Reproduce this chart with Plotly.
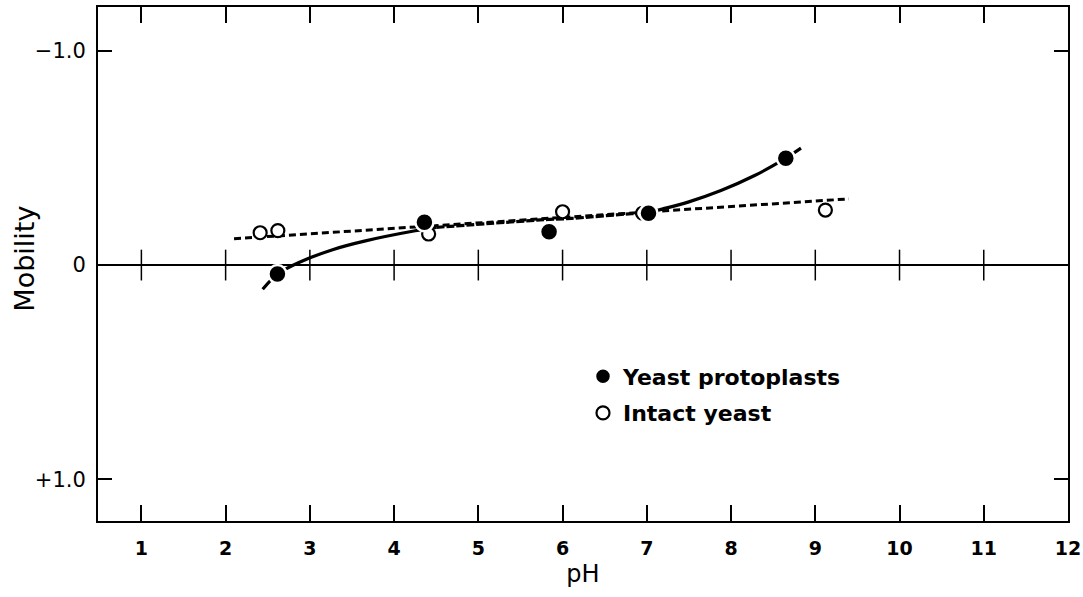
import plotly.graph_objects as go

# Electrophoretic mobility of yeast protoplasts and intact yeast cells vs pH
proto_ph = [2.615, 4.36, 5.84, 7.02, 8.65]
proto_mob = [0.042, -0.200, -0.156, -0.242, -0.499]

intact_ph = [2.41, 2.62, 4.41, 6.00, 6.95, 9.12]
intact_mob = [-0.151, -0.161, -0.145, -0.249, -0.242, -0.257]

# Straight fitted line through the intact yeast points
intact_fit_ph = [2.10, 9.40]
intact_fit_mob = [-0.123, -0.309]

# Smooth curve through the protoplast points
curve_ph = [2.44, 2.615, 2.87, 3.27, 3.66, 4.25, 4.50,
            5.79, 6.11, 6.82, 7.02,
            7.17, 7.49, 7.88, 8.28, 8.65, 8.83]
curve_mob = [0.113, 0.042, -0.012, -0.072, -0.113, -0.160, -0.176,
             -0.212, -0.218, -0.240, -0.244,
             -0.260, -0.294, -0.348, -0.418, -0.499, -0.546]

x_ticks = list(range(1, 13))
x_tick_text = [str(v) for v in x_ticks]
zero_ticks = list(range(1, 12))
y_ticks = [-1.0, 0.0, 1.0]
y_tick_text = ["\u22121.0", "0", "+1.0"]

X_RANGE = [0.485, 12.0]
Y_RANGE = [1.195, -1.205]

fig = go.Figure()

# small crossing ticks along the zero line
fig.add_trace(go.Scatter(
    x=zero_ticks, y=[0] * len(zero_ticks), mode="markers",
    marker=dict(symbol="line-ns", size=22, line=dict(color="black", width=1.5)),
    showlegend=False, hoverinfo="skip"))

fig.add_trace(go.Scatter(
    x=intact_fit_ph, y=intact_fit_mob, mode="lines",
    line=dict(color="black", width=3, dash="7px,4px"),
    showlegend=False, hoverinfo="skip"))

# protoplast curve: solid at both ends, heavier dashes where it meets the fit line
segments = [(0, 7, "solid"), (6, 11, "8px,2px"), (10, 17, "solid")]
for a, b, dash in segments:
    fig.add_trace(go.Scatter(
        x=curve_ph[a:b], y=curve_mob[a:b], mode="lines",
        line=dict(color="black", width=3.2, dash=dash, shape="spline", smoothing=0.8),
        showlegend=False, hoverinfo="skip"))

fig.add_trace(go.Scatter(
    x=intact_ph, y=intact_mob, mode="markers", name="Intact yeast",
    legendrank=2, legendgroup="b",
    marker=dict(symbol="circle", size=13, color="white",
                line=dict(color="black", width=2.2))))

fig.add_trace(go.Scatter(
    x=proto_ph, y=proto_mob, mode="markers", name="Yeast protoplasts",
    legendrank=1, legendgroup="a",
    marker=dict(symbol="circle", size=18, color="black",
                line=dict(color="white", width=2.5))))

fig.update_layout(
    width=1083, height=597,
    margin=dict(l=98, r=15, t=7, b=76, autoexpand=False),
    paper_bgcolor="white", plot_bgcolor="white",
    font=dict(family="DejaVu Sans", color="black"),
    showlegend=True,
    legend=dict(
        x=0.5, y=0.322, xanchor="left", yanchor="top",
        bgcolor="rgba(0,0,0,0)", borderwidth=0,
        font=dict(family="DejaVu Sans", size=22, weight="bold", color="black"),
        itemwidth=30, tracegroupgap=5,
    ),
    annotations=[dict(
        text="Mobility", textangle=-90, showarrow=False,
        xref="paper", yref="paper", x=-0.076, y=0.511,
        xanchor="center", yanchor="middle",
        font=dict(family="DejaVu Sans", size=27, color="black"),
    )],
)

fig.update_xaxes(
    range=X_RANGE, tickmode="array", tickvals=x_ticks, ticktext=x_tick_text,
    ticks="inside", ticklen=16, tickwidth=1.5, tickcolor="black",
    showline=True, linewidth=2, linecolor="black", mirror="ticks",
    showgrid=False, zeroline=False, automargin=False,
    tickfont=dict(family="DejaVu Sans", size=19, weight="bold", color="black"),
    ticklabelstandoff=9, ticklabeloverflow="allow",
    title=dict(text="pH", font=dict(family="DejaVu Sans", size=24), standoff=7),
)

fig.update_yaxes(
    range=Y_RANGE, tickmode="array", tickvals=y_ticks, ticktext=y_tick_text,
    ticks="inside", ticklen=14, tickwidth=1.5, tickcolor="black",
    showline=True, linewidth=2, linecolor="black", mirror="ticks",
    showgrid=False, zeroline=True, zerolinecolor="black", zerolinewidth=1.5,
    automargin=False,
    tickfont=dict(family="DejaVu Sans", size=21, color="black"),
    ticklabelstandoff=6,
)

fig.write_html("out.html")
